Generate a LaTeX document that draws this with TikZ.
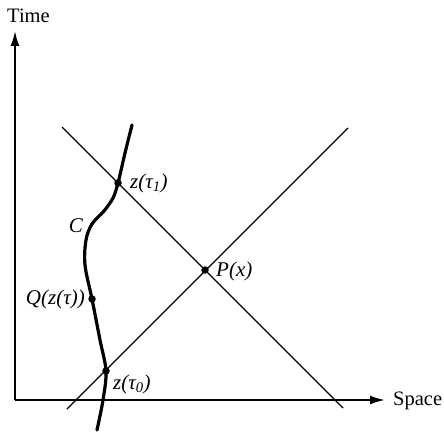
\documentclass[tikz,border=0pt]{standalone}
\usepackage{fontspec}
\setmainfont{Liberation Serif}
\usetikzlibrary{arrows.meta}
\begin{document}
\begin{tikzpicture}[x=1pt,y=-1pt,
  axis/.style={line width=2pt,-{Latex[length=15pt,width=9pt]}},
  cone/.style={line width=1.4pt},
  world/.style={line width=3.2pt,line cap=round},
  dotpt/.style={circle,fill=black,inner sep=0pt,minimum size=7.5pt},
  lbl/.style={font=\fontsize{21}{23}\selectfont\itshape,inner sep=1pt},
  axlbl/.style={font=\fontsize{20.5}{22}\selectfont,inner sep=0pt}]
\useasboundingbox (0,0) rectangle (444,433);
% axes
\coordinate (O) at (15,400);
\coordinate (T) at (15,31);
\coordinate (S) at (385,400);
\draw[axis] (O) -- (T);
\draw[axis] (O) -- (S);
\node[axlbl,anchor=west] (time) at (7,16) {Time};
\node[axlbl,anchor=west] (space) at (393,401) {Space};
% light cone lines
\coordinate (a1) at (62,127);
\coordinate (a2) at (343,408);
\coordinate (b1) at (67,409);
\coordinate (b2) at (348,128);
\draw[cone] (a1) -- (a2);
\draw[cone] (b1) -- (b2);
% world line
\draw[world] plot[smooth,tension=0.55] coordinates {(132,125) (125,153) (118,183) (113,198) (104,211) (92,224) (86,240) (85,265) (92,299) (100,340) (106,371) (103,400) (97,430)};
% points
\node[dotpt] (z1) at (118,183) {};
\node[dotpt] (q) at (92,299) {};
\node[dotpt] (z0) at (106,371) {};
\node[dotpt] (p) at (205,270) {};
% labels
\node[lbl,anchor=west] (lz1) at (129,183) {z(τ\textsubscript{1})};
\node[lbl] (lc) at (76,226) {C};
\node[lbl,anchor=east] (lq) at (86,299) {Q(z(τ))};
\node[lbl,anchor=west] (lz0) at (112,384) {z(τ\textsubscript{0})};
\node[lbl,anchor=west] (lp) at (215,271) {P(x)};
\end{tikzpicture}
\end{document}
